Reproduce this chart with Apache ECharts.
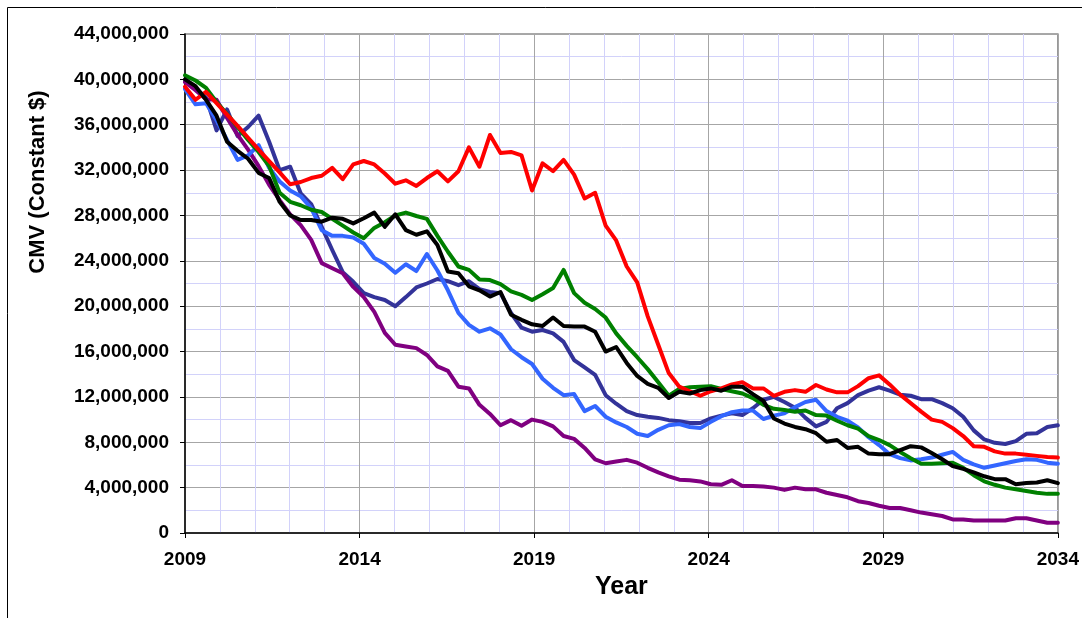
<!DOCTYPE html>
<html>
<head>
<meta charset="utf-8">
<script src="https://cdn.jsdelivr.net/npm/echarts@6/dist/echarts.min.js"></script>
<style>
  html, body { margin: 0; padding: 0; background: #fff; }
  #chart { width: 1082px; height: 618px; }
</style>
</head>
<body>
<div id="chart"></div>
<script>
// Values in millions of constant dollars, 84 evenly spaced points from 2009 to 2034
const red = [39.35,38.2,38.9,37.9,36.9,35.9,34.85,33.8,32.8,31.8,
  30.75,30.95,31.3,31.5,32.2,31.2,32.5,32.8,32.5,31.7,
  30.8,31.1,30.6,31.3,31.9,31.0,31.9,34.0,32.3,35.1,
  33.5,33.6,33.3,30.2,32.6,31.9,32.9,31.6,29.5,30.0,
  27.1,25.8,23.5,22.1,19.1,16.6,14.1,12.9,12.5,12.1,
  12.5,12.75,13.1,13.3,12.75,12.75,12.1,12.45,12.6,12.45,
  13.05,12.65,12.4,12.4,12.95,13.65,13.9,13.1,12.2,11.45,
  10.7,10.0,9.8,9.25,8.55,7.65,7.6,7.2,7.0,7.0,
  6.9,6.8,6.7,6.65];
const green = [40.35,39.9,39.25,38.0,36.95,35.8,34.65,33.6,32.35,30.0,
  29.2,28.9,28.5,28.3,27.7,27.1,26.5,26.0,26.9,27.4,
  28.0,28.25,27.95,27.7,26.2,24.8,23.5,23.2,22.35,22.3,
  21.95,21.3,21.0,20.55,21.05,21.6,23.2,21.15,20.3,19.75,
  19.0,17.6,16.5,15.5,14.45,13.3,12.1,12.7,12.85,12.9,
  12.95,12.7,12.5,12.3,11.9,11.3,10.95,10.85,10.7,10.8,
  10.4,10.35,9.9,9.5,9.2,8.55,8.2,7.75,7.15,6.6,
  6.1,6.1,6.15,6.2,5.75,5.1,4.55,4.25,4.0,3.85,
  3.7,3.55,3.45,3.45];
const black = [40.0,39.4,38.2,36.8,34.5,33.7,33.0,31.75,31.3,29.2,
  28.0,27.6,27.6,27.45,27.8,27.7,27.3,27.75,28.25,27.0,
  28.1,26.7,26.3,26.6,25.4,23.05,22.9,21.75,21.4,20.85,
  21.25,19.25,18.8,18.4,18.25,19.0,18.25,18.2,18.2,17.75,
  16.0,16.4,15.0,13.85,13.15,12.8,11.9,12.45,12.3,12.6,
  12.75,12.55,12.9,12.9,12.25,11.65,10.1,9.65,9.35,9.15,
  8.8,8.05,8.2,7.5,7.6,7.0,6.95,6.95,7.3,7.65,
  7.55,7.05,6.5,5.9,5.65,5.35,5.0,4.75,4.75,4.3,
  4.4,4.45,4.65,4.4];
const navy = [39.8,39.2,38.4,35.5,37.35,35.0,35.8,36.8,34.5,32.0,
  32.3,29.95,29.0,27.0,24.95,23.0,22.15,21.15,20.8,20.55,
  20.0,20.8,21.65,22.0,22.4,22.2,21.85,22.2,21.5,21.25,
  21.15,19.4,18.1,17.75,17.9,17.6,16.85,15.25,14.6,13.95,
  12.15,11.4,10.75,10.4,10.25,10.15,9.95,9.85,9.7,9.7,
  10.1,10.35,10.55,10.4,11.0,11.75,12.0,11.55,11.05,10.15,
  9.4,9.8,11.0,11.45,12.15,12.55,12.85,12.55,12.2,12.1,
  11.8,11.8,11.45,11.0,10.25,9.05,8.25,7.95,7.85,8.1,
  8.75,8.8,9.35,9.5];
const lightBlue = [39.15,37.8,37.9,36.4,34.65,32.9,33.3,34.2,32.2,31.0,
  30.2,29.7,28.65,26.7,26.2,26.2,26.05,25.5,24.25,23.75,
  22.95,23.7,23.1,24.6,23.15,21.4,19.4,18.35,17.75,18.05,
  17.5,16.2,15.5,14.9,13.6,12.8,12.15,12.25,10.75,11.2,
  10.25,9.75,9.35,8.75,8.55,9.1,9.5,9.6,9.35,9.25,
  9.8,10.3,10.65,10.8,10.8,10.05,10.35,10.55,11.1,11.55,
  11.75,10.75,10.25,9.9,9.3,8.45,7.75,6.95,6.6,6.4,
  6.5,6.65,6.9,7.15,6.45,6.05,5.75,5.95,6.15,6.35,
  6.5,6.45,6.2,6.1];
const purple = [39.75,39.05,38.25,38.2,36.6,35.1,33.8,32.35,30.7,29.35,
  28.1,27.15,25.85,23.8,23.35,22.9,21.7,20.8,19.5,17.65,
  16.6,16.45,16.3,15.7,14.7,14.3,12.9,12.75,11.3,10.5,
  9.5,9.95,9.45,10.0,9.8,9.4,8.55,8.3,7.5,6.5,
  6.15,6.3,6.45,6.2,5.75,5.35,5.0,4.7,4.65,4.55,
  4.3,4.25,4.65,4.15,4.15,4.1,4.0,3.8,4.0,3.85,
  3.85,3.55,3.35,3.15,2.8,2.65,2.4,2.2,2.2,2.0,
  1.8,1.65,1.5,1.2,1.2,1.1,1.1,1.1,1.1,1.3,
  1.3,1.1,0.9,0.9];

const START_YEAR = 2009;
const END_YEAR = 2034;
const yearTicks = [2009, 2014, 2019, 2024, 2029, 2034];
const yTitle = 'CMV (Constant $)';
const xTitle = 'Year';

const nPts = red.length;
const years = red.map((_, i) => START_YEAR + i * (END_YEAR - START_YEAR) / (nPts - 1));
const pairs = arr => arr.map((v, i) => [years[i], v]);

const FONT = 'Liberation Sans, Arial, sans-serif';

const seriesDefs = [
  { name: 'Navy', data: navy, color: '#333399' },
  { name: 'Purple', data: purple, color: '#800080' },
  { name: 'Blue', data: lightBlue, color: '#3366FF' },
  { name: 'Green', data: green, color: '#008000' },
  { name: 'Red', data: red, color: '#FF0000' },
  { name: 'Black', data: black, color: '#000000' }
];

const chart = echarts.init(document.getElementById('chart'), null, { renderer: 'canvas' });
chart.setOption({
  animation: false,
  backgroundColor: '#ffffff',
  grid: { left: 185, right: 24, top: 34, bottom: 85, show: true, borderColor: '#8c8c8c', borderWidth: 1.5, backgroundColor: '#ffffff' },
  xAxis: {
    type: 'value', min: START_YEAR, max: END_YEAR, interval: 5,
    axisLine: { show: true, onZero: false, lineStyle: { color: '#000', width: 1.5 } },
    axisTick: { show: true, length: 5, lineStyle: { color: '#000', width: 1 } },
    axisLabel: { color: '#000', fontFamily: FONT, fontWeight: 'bold', fontSize: 19, margin: 17,
      formatter: v => yearTicks.includes(v) ? String(v) : '' },
    splitLine: { show: true, lineStyle: { color: '#a6a6a6', width: 1 } },
    minorTick: { show: false, splitNumber: 5 },
    minorSplitLine: { show: true, lineStyle: { color: '#d2d2fa', width: 1 } },
    name: xTitle, nameLocation: 'middle', nameGap: 42,
    nameTextStyle: { color: '#000', fontFamily: FONT, fontWeight: 'bold', fontSize: 25 }
  },
  yAxis: {
    type: 'value', min: 0, max: 44, interval: 4,
    axisLine: { show: true, lineStyle: { color: '#000', width: 1.5 } },
    axisTick: { show: true, length: 5, lineStyle: { color: '#000', width: 1 } },
    axisLabel: { color: '#000', fontFamily: FONT, fontWeight: 'bold', fontSize: 19, margin: 16,
      formatter: v => Math.round(v * 1e6).toLocaleString('en-US') },
    splitLine: { show: true, lineStyle: { color: '#a6a6a6', width: 1 } },
    minorTick: { show: false, splitNumber: 2 },
    minorSplitLine: { show: true, lineStyle: { color: '#d2d2fa', width: 1 } }
  },
  graphic: [
    { type: 'rect', silent: true, z: -10, shape: { x: 7.5, y: 7.5, width: 1200, height: 1000 },
      style: { fill: 'none', stroke: '#000', lineWidth: 1 } },
    { type: 'text', silent: true, x: 38, y: 182, rotation: Math.PI / 2,
      style: { text: yTitle, fill: '#000', font: 'bold 22px ' + FONT, textAlign: 'center', textVerticalAlign: 'middle' } }
  ],
  series: seriesDefs.map(s => ({
    name: s.name, type: 'line', data: pairs(s.data), showSymbol: false, symbol: 'none',
    lineStyle: { color: s.color, width: 4, cap: 'round', join: 'round' },
    itemStyle: { color: s.color }
  }))
});
</script>
</body>
</html>
